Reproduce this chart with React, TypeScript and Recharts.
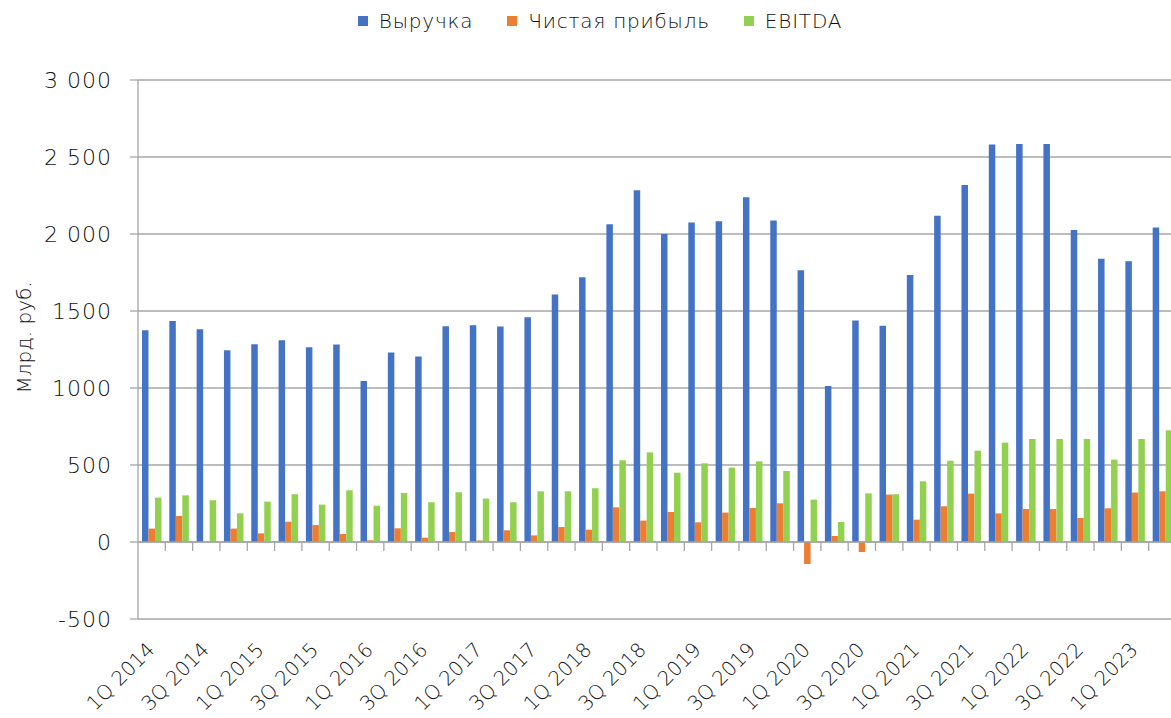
import { BarChart, Bar, XAxis, YAxis, CartesianGrid, Legend, ReferenceLine } from "recharts";

const quarters = [
  "1Q 2014", "2Q 2014", "3Q 2014", "4Q 2014",
  "1Q 2015", "2Q 2015", "3Q 2015", "4Q 2015",
  "1Q 2016", "2Q 2016", "3Q 2016", "4Q 2016",
  "1Q 2017", "2Q 2017", "3Q 2017", "4Q 2017",
  "1Q 2018", "2Q 2018", "3Q 2018", "4Q 2018",
  "1Q 2019", "2Q 2019", "3Q 2019", "4Q 2019",
  "1Q 2020", "2Q 2020", "3Q 2020", "4Q 2020",
  "1Q 2021", "2Q 2021", "3Q 2021", "4Q 2021",
  "1Q 2022", "2Q 2022", "3Q 2022", "4Q 2022",
  "1Q 2023", "2Q 2023"
];

const revenue = [
  1375, 1435, 1381, 1245, 1284, 1310, 1265, 1282, 1046, 1230, 1204, 1401,
  1407, 1399, 1459, 1607, 1719, 2063, 2284, 2000, 2074, 2083, 2238, 2087, 1764,
  1013, 1438, 1405, 1734, 2119, 2318, 2581, 2585, 2585, 2026, 1840, 1823, 2042
];

const netProfit = [
  87, 169, 0, 87, 56, 132, 110, 52, 11, 89, 28, 65,
  10, 76, 43, 97, 80, 225, 139, 195, 128, 191, 221, 251, -143,
  39, -65, 308, 145, 232, 314, 186, 214, 214, 156, 219, 321, 329
];

const ebitda = [
  288, 303, 271, 186, 262, 310, 243, 336, 236, 318, 258, 323,
  282, 258, 329, 329, 349, 531, 582, 450, 511, 483, 524, 461, 275,
  130, 316, 310, 394, 528, 593, 645, 669, 669, 669, 535, 669, 725
];

const yTicks = [-500, 0, 500, 1000, 1500, 2000, 2500, 3000];
const yTickLabels = ["-500", "0", "500", "1000", "1500", "2 000", "2 500", "3 000"];

const seriesKeys = ["revenue", "profit", "ebitda"];
const seriesNames = ["Выручка", "Чистая прибыль", "EBITDA"];
const seriesColors = ["#4472C4", "#ED7D31", "#92D050"];

const data = quarters.map((q, i) => ({
  quarter: q,
  revenue: revenue[i],
  profit: netProfit[i],
  ebitda: ebitda[i]
}));

const FONT = '"DejaVu Sans", "Open Sans", sans-serif';
const WEIGHT = 200;
const TEXT = "#111";
const GRID = "#a6a6a6";

function QuarterTick({ x, y, payload }: any) {
  const ax = x + 4;
  const ay = y + 32;
  return (
    <text
      x={ax}
      y={ay}
      transform={`rotate(-45 ${ax} ${ay})`}
      textAnchor="end"
      fill={TEXT}
      fontSize={20}
      fontFamily={FONT}
      fontWeight={WEIGHT}
    >
      {payload.value}
    </text>
  );
}

// line at zero with the category tick marks hanging under it
function ZeroAxis({ x1, y1, x2 }: any) {
  const band = (x2 - x1) / quarters.length;
  return (
    <g>
      <line x1={x1} y1={y1} x2={x2} y2={y1} stroke={GRID} strokeWidth={1.3} />
      {quarters.map((q, i) => (
        <line
          key={q}
          x1={x1 + band * (i + 1)}
          x2={x1 + band * (i + 1)}
          y1={y1}
          y2={y1 + 9}
          stroke={GRID}
          strokeWidth={1.3}
        />
      ))}
    </g>
  );
}

function AxisTitle({ viewBox }: any) {
  const cx = viewBox.x + 31;
  const cy = viewBox.y + viewBox.height / 2 - 12;
  return (
    <text
      x={cx}
      y={cy}
      transform={`rotate(-90 ${cx} ${cy})`}
      textAnchor="middle"
      fill={TEXT}
      fontSize={20}
      fontFamily={FONT}
      fontWeight={WEIGHT}
    >
      Млрд. руб.
    </text>
  );
}

function LegendRow() {
  return (
    <div
      style={{
        display: "flex",
        justifyContent: "center",
        gap: 34,
        fontFamily: FONT,
        fontWeight: WEIGHT,
        fontSize: 20,
        letterSpacing: 0.8,
        lineHeight: "28px",
        color: TEXT
      }}
    >
      {seriesNames.map((name, i) => (
        <div key={name} style={{ display: "flex", alignItems: "center" }}>
          <span
            style={{ width: 10, height: 10, flex: "0 0 10px", background: seriesColors[i], marginRight: 11 }}
          />
          <span>{name}</span>
        </div>
      ))}
    </div>
  );
}

export default function App() {
  return (
    <div
      style={{
        position: "absolute",
        left: 0,
        top: 0,
        width: 1171,
        height: 718,
        overflow: "hidden",
        background: "#fff"
      }}
    >
      <BarChart
        width={1176}
        height={718}
        data={data}
        margin={{ top: 80, right: 0, left: 0, bottom: 0 }}
        barGap={0}
        barSize={6.5}
      >
        <CartesianGrid stroke={GRID} strokeWidth={1.3} vertical={false} />
        <XAxis
          dataKey="quarter"
          interval={1}
          height={99}
          axisLine={false}
          tickLine={false}
          tickSize={0}
          tickMargin={0}
          tick={<QuarterTick />}
        />
        <YAxis
          width={138}
          domain={[-500, 3000]}
          ticks={yTicks}
          allowDataOverflow
          tickFormatter={(v: number) => yTickLabels[yTicks.indexOf(v)]}
          axisLine={{ stroke: GRID, strokeWidth: 1.3 }}
          tickLine={{ stroke: GRID, strokeWidth: 1.3 }}
          tickSize={8}
          tickMargin={18}
          tick={{ fill: TEXT, fontSize: 22, fontFamily: FONT, fontWeight: WEIGHT, letterSpacing: 1 }}
          label={<AxisTitle />}
        />
        <Legend
          verticalAlign="middle"
          align="center"
          wrapperStyle={{ top: 7, left: 0, width: 1200 }}
          content={<LegendRow />}
        />
        {seriesKeys.map((key, i) => (
          <Bar
            key={key}
            dataKey={key}
            name={seriesNames[i]}
            fill={seriesColors[i]}
            isAnimationActive={false}
          />
        ))}
        <ReferenceLine y={0} shape={<ZeroAxis />} />
      </BarChart>
    </div>
  );
}
